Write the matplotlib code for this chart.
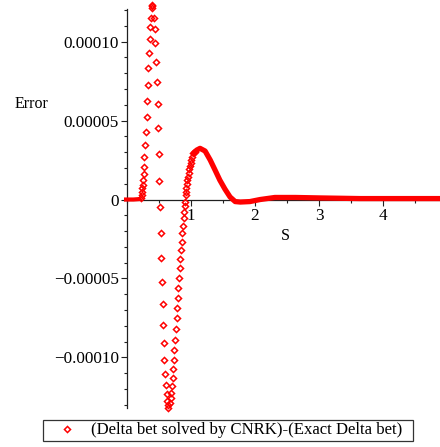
import numpy as np
import matplotlib
matplotlib.use("Agg")
import matplotlib.pyplot as plt
from matplotlib.ticker import MultipleLocator, FixedLocator
from matplotlib.lines import Line2D

plt.rcParams["font.family"] = ["Liberation Serif", "DejaVu Serif"]

# sparse error points (diamond markers), s vs error
s_pts = [0.219, 0.230, 0.234, 0.239, 0.245, 0.252, 0.258, 0.266, 0.270, 0.277,
         0.292, 0.308, 0.317, 0.328, 0.333, 0.344, 0.355, 0.364, 0.375, 0.391,
         0.395, 0.398, 0.427, 0.442, 0.445, 0.453, 0.464, 0.480, 0.484, 0.495,
         0.505, 0.516, 0.527, 0.531, 0.552, 0.558, 0.567, 0.578, 0.583, 0.594,
         0.609, 0.620, 0.630, 0.641, 0.645, 0.667, 0.683, 0.688, 0.698, 0.714,
         0.723, 0.734, 0.739, 0.750, 0.766, 0.777, 0.786, 0.797, 0.802, 0.813,
         0.823, 0.833, 0.844, 0.855, 0.864, 0.875, 0.891, 0.895, 0.906, 0.911,
         0.914, 0.922, 0.927, 0.933, 0.942, 0.953, 0.964, 0.973, 0.984, 0.995,
         1.005, 1.016, 1.036, 1.063]
err_pts = [0.95e-6, 2.8e-6, 4.7e-6, 7.3e-6, 9.2e-6, 1.23e-5, 1.61e-5, 2.06e-5, 2.69e-5, 3.45e-5,
           4.27e-5, 5.24e-5, 6.25e-5, 7.25e-5, 8.32e-5, 9.27e-5, 1.016e-4, 1.092e-4, 1.151e-4, 1.21e-4,
           1.225e-4, 1.231e-4, 1.149e-4, 1.079e-4, 9.9e-5, 8.7e-5, 7.46e-5, 6.04e-5, 4.53e-5, 2.88e-5,
           1.19e-5, -4.6e-6, -2.10e-5, -3.72e-5, -5.20e-5, -6.63e-5, -7.94e-5, -9.10e-5, -1.016e-4, -1.104e-4,
           -1.174e-4, -1.233e-4, -1.275e-4, -1.301e-4, -1.318e-4, -1.290e-4, -1.258e-4, -1.227e-4, -1.180e-4, -1.132e-4,
           -1.075e-4, -1.016e-4, -9.53e-5, -8.89e-5, -8.22e-5, -7.52e-5, -6.89e-5, -6.25e-5, -5.62e-5, -4.99e-5,
           -4.35e-5, -3.78e-5, -3.20e-5, -2.67e-5, -2.14e-5, -1.68e-5, -1.19e-5, -7.7e-6, -4.1e-6, -1.4e-6,
           2.8e-6, 4.9e-6, 7.3e-6, 9.8e-6, 1.23e-5, 1.44e-5, 1.66e-5, 1.91e-5, 2.12e-5, 2.29e-5,
           2.50e-5, 2.67e-5, 2.92e-5, 3.03e-5]

# dense parts (markers so close they form a thick band)
s_lead = [-0.05, 0.0, 0.1, 0.2, 0.22]
err_lead = [0.0, 0.0, 0.0, 0.3e-6, 0.9e-6]

s_tail = [1.036, 1.063, 1.089, 1.141, 1.22, 1.30, 1.375, 1.45, 1.53, 1.61,
          1.69, 1.77, 1.92, 2.08, 2.31, 2.63, 3.02, 3.64, 4.89]
err_tail = [2.92e-5, 3.03e-5, 3.13e-5, 3.24e-5, 3.07e-5, 2.5e-5, 1.87e-5, 1.23e-5, 6.6e-6, 1.6e-6,
            -1.3e-6, -1.6e-6, -1.3e-6, 0.0, 1.3e-6, 1.3e-6, 1.0e-6, 0.6e-6, 0.6e-6]

y_ticks = [-1e-4, -5e-5, 0, 5e-5, 1e-4]
y_labels = ["\u22120.00010", "\u22120.00005", "0", "0.00005", "0.00010"]
x_ticks = [1, 2, 3, 4]
legend_label = "(Delta bet solved by CNRK)-(Exact Delta bet)"

fig = plt.figure(figsize=(4.40, 4.47), dpi=100)
ax = fig.add_axes([0.2814, 0.0872, 0.7186, 0.8926])

red = "#ff0000"
ax.plot(s_lead, err_lead, color=red, lw=3.0, solid_capstyle="butt", zorder=3)
ax.plot(s_tail, err_tail, color=red, lw=3.8, solid_capstyle="round", zorder=3)
ax.plot(s_pts, err_pts, ls="none", marker="D", ms=3.1, mfc="none", mec=red,
        mew=1.1, zorder=4, clip_on=False)

ax.set_xlim(-0.05, 4.89)
ax.set_ylim(-1.32e-4, 1.206e-4)

for side in ["top", "right"]:
    ax.spines[side].set_visible(False)
ax.spines["left"].set_position(("data", 0))
ax.spines["bottom"].set_position(("data", 0))
for side in ["left", "bottom"]:
    ax.spines[side].set_linewidth(0.9)
    ax.spines[side].set_color("#202020")

ax.xaxis.set_major_locator(FixedLocator(x_ticks))
ax.xaxis.set_minor_locator(MultipleLocator(0.5))
ax.yaxis.set_major_locator(FixedLocator(y_ticks))
ax.yaxis.set_minor_locator(MultipleLocator(1e-5))
ax.set_yticklabels(y_labels)
ax.tick_params(axis="both", which="major", labelsize=12.3, direction="out",
               length=4, width=0.8, pad=2, color="#202020")
ax.tick_params(axis="both", which="minor", direction="out", length=2.5,
               width=0.8, color="#202020")

fig.text(15 / 440, 1 - 104 / 447, "Error", fontsize=11.5, va="center", ha="left")
fig.text(285 / 440, 1 - 236 / 447, "S", fontsize=11.5, va="center", ha="center")

handle = Line2D([], [], ls="none", marker="D", ms=3.1, mfc="none", mec=red, mew=1.1)
leg = fig.legend([handle], [legend_label], loc="center",
                 bbox_to_anchor=(43 / 440, 1 - 442 / 447, 370 / 440, 23 / 447),
                 mode="expand", fontsize=12.1, frameon=True, fancybox=False,
                 borderpad=0.15, handlelength=2.5, handletextpad=0.21,
                 borderaxespad=0)
leg.get_frame().set_edgecolor("black")
leg.get_frame().set_linewidth(0.9)

fig.savefig("out.png", dpi=100)
